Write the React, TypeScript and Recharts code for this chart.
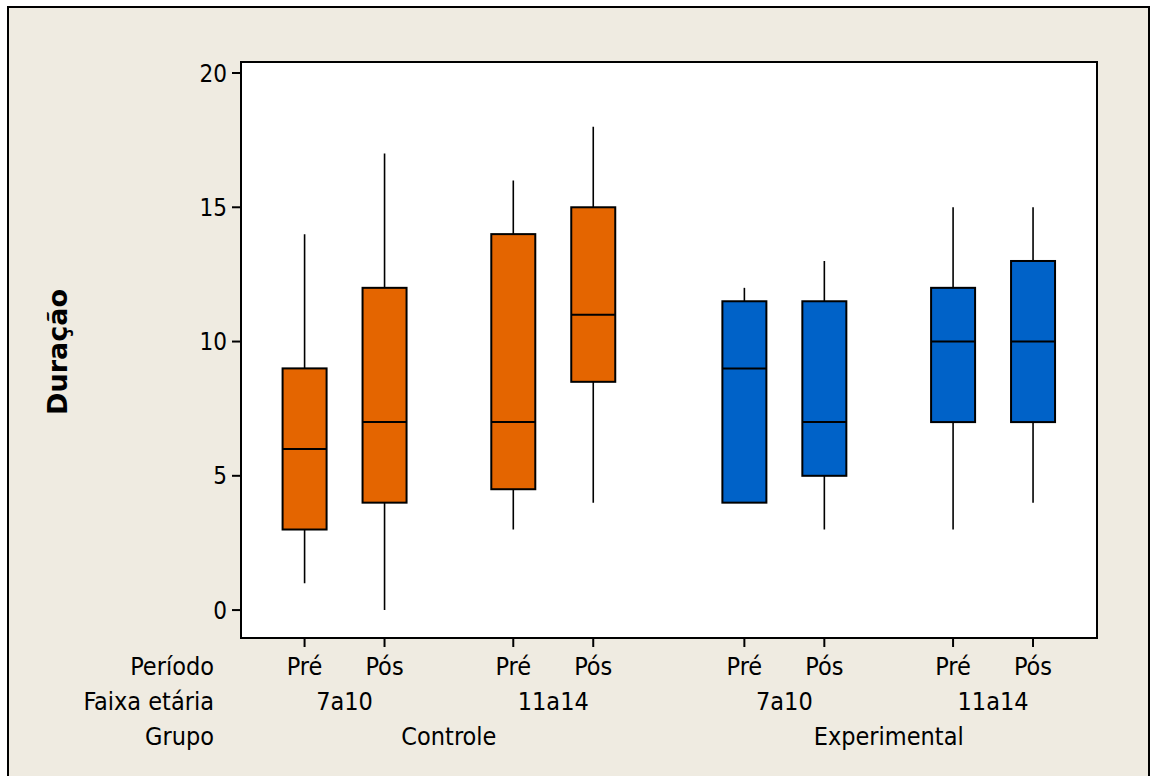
import { ComposedChart, Bar, XAxis, YAxis, ReferenceArea } from 'recharts'

// one entry per box, in plotting order
const periods = ['Pré', 'Pós', 'Pré', 'Pós', 'Pré', 'Pós', 'Pré', 'Pós']
const ageBands = ['7a10', '11a14', '7a10', '11a14']
const groups = ['Controle', 'Experimental']
const yTicks = [0, 5, 10, 15, 20]

const mins = [1, 0, 3, 4, 4, 3, 3, 4]
const q1s = [3, 4, 4.5, 8.5, 4, 5, 7, 7]
const medians = [6, 7, 7, 11, 9, 7, 10, 10]
const q3s = [9, 12, 14, 15, 11.5, 11.5, 12, 13]
const maxs = [14, 17, 16, 18, 12, 13, 15, 15]

const FONT = '"DejaVu Sans Condensed", "DejaVu Sans", sans-serif'
const BOLD_FONT = '"DejaVu Sans", sans-serif'
const groupColors = ['#E46500', '#0062C8']

// spacing of the nested categories on the x scale
const AGE_STEP = 2.61
const GROUP_STEP = 5.5
const posOf = (i: number) => (i % 2) + AGE_STEP * (Math.floor(i / 2) % 2) + GROUP_STEP * Math.floor(i / 4)

const X_DOMAIN: [number, number] = [-0.795, 9.91]
const Y_DOMAIN: [number, number] = [-1.04, 20.41]

const rows = periods.map((p, i) => ({
  pos: posOf(i),
  period: p,
  group: Math.floor(i / 4),
  min: mins[i],
  q1: q1s[i],
  median: medians[i],
  q3: q3s[i],
  max: maxs[i],
}))

const periodTicks = rows.map(r => r.pos)
const ageTicks = ageBands.map((_, k) => (posOf(2 * k) + posOf(2 * k + 1)) / 2)
const groupTicks = groups.map((_, g) => (posOf(4 * g) + posOf(4 * g + 3)) / 2)

const BoxShape = (props: any) => {
  const { x, y, width, height, payload } = props
  const top = Math.min(y, y + height)
  const bottom = Math.max(y, y + height)
  const span = payload.max - payload.min
  const py = (v: number) => (span === 0 ? top : bottom - ((v - payload.min) / span) * (bottom - top))
  const cx = x + width / 2
  return (
    <g>
      <line x1={cx} x2={cx} y1={py(payload.max)} y2={py(payload.min)} stroke="#000" strokeWidth={1.6} />
      <rect
        x={x}
        y={py(payload.q3)}
        width={width}
        height={py(payload.q1) - py(payload.q3)}
        fill={groupColors[payload.group]}
        stroke="#000"
        strokeWidth={2}
      />
      <line x1={x} x2={x + width} y1={py(payload.median)} y2={py(payload.median)} stroke="#000" strokeWidth={2} />
    </g>
  )
}

const rowTick = (labels: string[], dy: number) => (props: any) => (
  <text x={props.x} y={props.y} dy={dy} textAnchor="middle" fill="#000" fontSize={25} fontFamily={FONT}>
    {labels[props.index]}
  </text>
)

const rowLabel = (text: string, dy: number) => (props: any) => {
  const vb = props.viewBox
  return (
    <text x={vb.x - 27} y={vb.y + dy} textAnchor="end" fill="#000" fontSize={25} fontFamily={FONT}>
      {text}
    </text>
  )
}

export default function App() {
  return (
    <div style={{ position: 'fixed', left: 0, top: 0, width: 1151, height: 776, background: '#fff', overflow: 'hidden' }}>
      <div
        style={{
          position: 'absolute',
          left: 7,
          top: 6,
          width: 1139,
          height: 800,
          background: '#EFEBE1',
          border: '2px solid #000',
        }}
      />
      <div style={{ position: 'absolute', left: 0, top: 0 }}>
        <ComposedChart width={1151} height={776} data={rows} margin={{ top: 62, right: 54, left: 0, bottom: 22 }}>
          <ReferenceArea
            xAxisId="x1"
            x1={X_DOMAIN[0]}
            x2={X_DOMAIN[1]}
            y1={Y_DOMAIN[0]}
            y2={Y_DOMAIN[1]}
            fill="#fff"
            fillOpacity={1}
            stroke="#000"
            strokeWidth={2}
            ifOverflow="visible"
          />
          <YAxis
            type="number"
            domain={Y_DOMAIN}
            ticks={yTicks}
            allowDataOverflow
            width={241}
            tickSize={9}
            tickMargin={5}
            stroke="#000"
            strokeWidth={2}
            tick={{ fill: '#000', fontSize: 24, fontFamily: FONT }}
            label={{
              content: () => (
                <text
                  x={67}
                  y={352}
                  transform="rotate(-90, 67, 352)"
                  textAnchor="middle"
                  fill="#000"
                  fontSize={27}
                  fontWeight="bold"
                  fontFamily={BOLD_FONT}
                >
                  Duração
                </text>
              ),
            }}
          />
          <XAxis
            xAxisId="x1"
            dataKey="pos"
            type="number"
            domain={X_DOMAIN}
            ticks={periodTicks}
            allowDataOverflow
            height={46}
            tickSize={9}
            tickMargin={0}
            stroke="#000"
            strokeWidth={2}
            interval={0}
            tick={rowTick(periods, 28)}
            label={{ content: rowLabel('Período', 37) }}
          />
          <XAxis
            xAxisId="x2"
            dataKey="pos"
            type="number"
            domain={X_DOMAIN}
            ticks={ageTicks}
            allowDataOverflow
            height={35}
            tickSize={0}
            tickMargin={0}
            axisLine={false}
            tickLine={false}
            interval={0}
            tick={rowTick(ageBands, 26)}
            label={{ content: rowLabel('Faixa etária', 26) }}
          />
          <XAxis
            xAxisId="x3"
            dataKey="pos"
            type="number"
            domain={X_DOMAIN}
            ticks={groupTicks}
            allowDataOverflow
            height={35}
            tickSize={0}
            tickMargin={0}
            axisLine={false}
            tickLine={false}
            interval={0}
            tick={rowTick(groups, 26)}
            label={{ content: rowLabel('Grupo', 26) }}
          />
          <Bar
            xAxisId="x1"
            dataKey={(d: any) => [d.min, d.max]}
            barSize={44}
            shape={<BoxShape />}
            isAnimationActive={false}
          />
        </ComposedChart>
      </div>
    </div>
  )
}
